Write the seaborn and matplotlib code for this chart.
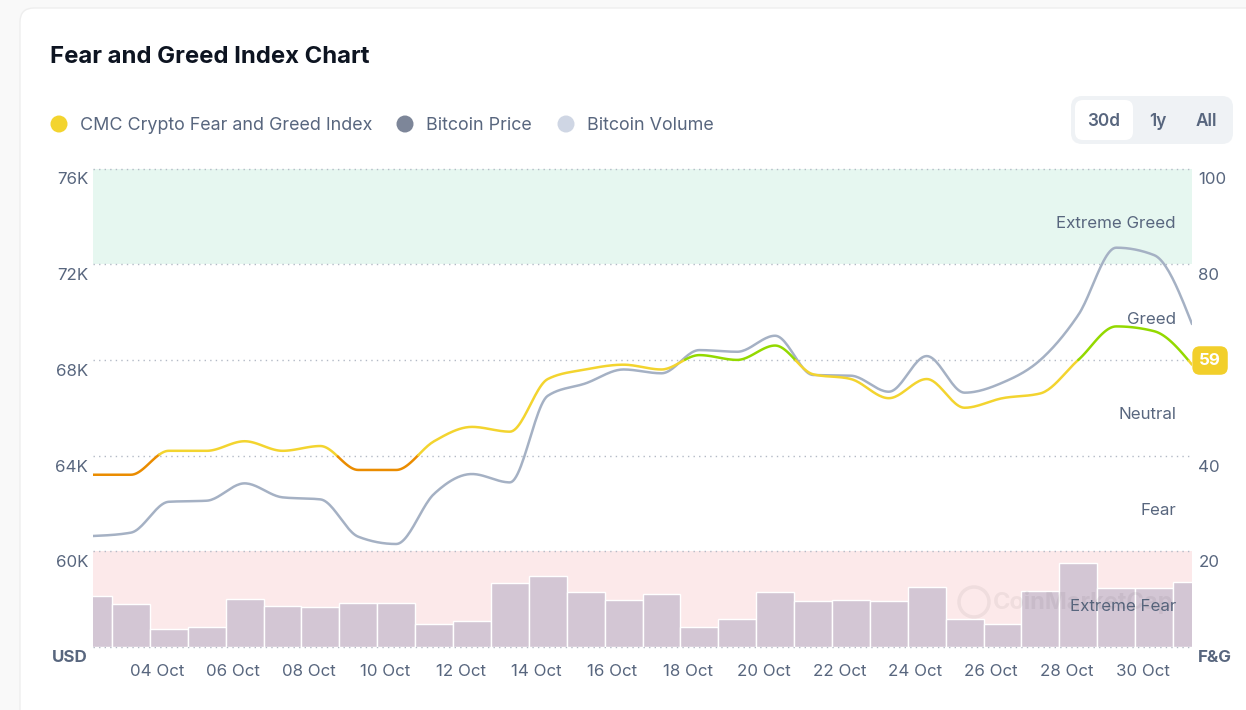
import numpy as np
import pandas as pd
import matplotlib
matplotlib.use("Agg")
import matplotlib.pyplot as plt
import seaborn as sns
from matplotlib.patches import FancyBboxPatch, Circle
from matplotlib.transforms import Affine2D, ScaledTranslation, blended_transform_factory

# ---------------- data ----------------
days = list(range(2, 32))  # 02 Oct .. 31 Oct
fear_greed = [36, 36, 41, 41, 43, 41, 42, 37, 37, 43, 46, 45, 56, 58, 59,
              58, 61, 60, 63, 57, 56, 52, 56, 50, 52, 53, 60, 67, 66, 59]
btc_price = [60640, 60780, 62070, 62115, 62840, 62255, 62170, 60610, 60305, 62400,
             63230, 62880, 66500, 67020, 67600, 67440, 68410, 68340, 69010, 67370,
             67340, 66670, 68160, 66630, 67050, 68000, 69880, 72690, 72380, 69500]
btc_volume_b = [28.2, 23.5, 10.1, 11.0, 26.6, 22.6, 21.8, 24.4, 24.4, 12.7,
                14.3, 35.0, 39.1, 30.1, 25.9, 29.2, 11.0, 15.2, 30.1, 25.1,
                25.9, 25.1, 33.2, 15.2, 12.7, 30.6, 46.4, 32.3, 32.3, 35.8]
tick_days = list(range(4, 31, 2))
tick_labels = [f"{d:02d} Oct" for d in tick_days]
usd_ticks = [60000, 64000, 68000, 72000, 76000]
usd_labels = ["60K", "64K", "68K", "72K", "76K"]
fg_ticks = [20, 40, 80, 100]
zone_names = ["Extreme Fear", "Fear", "Neutral", "Greed", "Extreme Greed"]
zone_edges = [0, 20, 40, 60, 80, 100]
zone_colors = ["#ea3943", "#ea8c00", "#f3d42f", "#93d900", "#16c784"]
legend_names = ["CMC Crypto Fear and Greed Index", "Bitcoin Price", "Bitcoin Volume"]
legend_colors = ["#f3d42f", "#7d8699", "#cfd6e4"]

# ---------------- helpers ----------------
def monotone_curve(x, y, n=24):
    """d3 curveMonotoneX style rendering of a series."""
    x = np.asarray(x, float)
    y = np.asarray(y, float)
    h = np.diff(x)
    s = np.diff(y) / h
    m = np.zeros_like(y)
    for i in range(1, len(y) - 1):
        s0, s1, h0, h1 = s[i - 1], s[i], h[i - 1], h[i]
        p = (s0 * h1 + s1 * h0) / (h0 + h1)
        m[i] = (np.sign(s0) + np.sign(s1)) * min(abs(s0), abs(s1), 0.5 * abs(p))
    m[0] = (3 * s[0] - m[1]) / 2
    m[-1] = (3 * s[-1] - m[-2]) / 2
    xs, ys = [], []
    for i in range(len(y) - 1):
        t = np.linspace(0, 1, n, endpoint=(i == len(y) - 2))
        h00 = 2 * t**3 - 3 * t**2 + 1
        h10 = t**3 - 2 * t**2 + t
        h01 = -2 * t**3 + 3 * t**2
        h11 = t**3 - t**2
        xs.append(x[i] + t * h[i])
        ys.append(h00 * y[i] + h10 * h[i] * m[i] + h01 * y[i + 1] + h11 * h[i] * m[i + 1])
    return np.concatenate(xs), np.concatenate(ys)

# ---------------- figure ----------------
sns.set_theme(style="white")
plt.rcParams["font.family"] = ["Inter", "DejaVu Sans"]
TXT = "#58667e"
FS = 12.2
W, H = 1246, 710
fig = plt.figure(figsize=(W / 100, H / 100), dpi=100, facecolor="#f9f9f9")
pxT = Affine2D().scale(1 / W, -1 / H).translate(0, 1) + fig.transFigure

card = FancyBboxPatch((20, 8), 1400, 900, boxstyle="round,pad=0,rounding_size=14",
                      transform=pxT, fc="white", ec="#eeeeee", lw=1, zorder=-10)
fig.patches.append(card)

# title
fig.text(50, 57, "Fear and Greed Index Chart", transform=pxT, fontsize=17.2,
         weight="bold", color="#0d1421", va="center", ha="left")

# legend
leg_x = [59, 405, 566]
for x0, name, col in zip(leg_x, legend_names, legend_colors):
    fig.patches.append(Circle((x0, 124), 8.5, transform=pxT, fc=col, ec="none"))
    fig.text(x0 + 21, 126, name, transform=pxT, fontsize=12.9, color=TXT,
             va="center", ha="left")

# range toggle
fig.patches.append(FancyBboxPatch((1071, 96), 162, 48, boxstyle="round,pad=0,rounding_size=11",
                                  transform=pxT, fc="#eff2f5", ec="none"))
fig.patches.append(FancyBboxPatch((1075, 100), 58, 40, boxstyle="round,pad=0,rounding_size=8",
                                  transform=pxT, fc="white", ec="none"))
for x0, lab in zip([1104, 1158, 1206], ["30d", "1y", "All"]):
    fig.text(x0, 121, lab, transform=pxT, fontsize=12.4, weight=600, color=TXT,
             ha="center", va="center")

# axes
L, R, T, B = 93, 1192, 168.5, 647
ax_bg = fig.add_axes([L / W, 1 - B / H, (R - L) / W, (B - T) / H])
ax_bg.set_facecolor("none")
ax_vol = ax_bg.twinx()
ax_price = ax_bg.twinx()
ax_fg = ax_bg.twinx()

idx = np.arange(len(days))

# zone bands + dotted grid
ax_bg.set_ylim(0, 100)
ax_bg.axhspan(80, 100, color="#e6f7f0", lw=0, zorder=0)
ax_bg.axhspan(0, 20, color="#fce9ea", lw=0, zorder=0)
for v in zone_edges:
    ax_bg.axhline(v, color="#b3bac6", lw=1.0, ls=(0, (1, 3)), zorder=1, clip_on=False)

# volume bars
df_vol = pd.DataFrame({"x": idx, "vol": btc_volume_b})
sns.barplot(data=df_vol, x="x", y="vol", native_scale=True, width=1.0,
            color="#d3c6d4", saturation=1, edgecolor="white", linewidth=1,
            errorbar=None, ax=ax_vol)
ax_vol.set_ylim(0, 263.45)
ax_vol.set_yticks([])
ax_vol.set_ylabel("")

# bitcoin price line
px_, py_ = monotone_curve(idx, btc_price)
sns.lineplot(x=px_, y=py_, ax=ax_price, color="#a5b1c4", lw=1.8,
             estimator=None, sort=False, legend=False)
ax_price.set_ylim(56000, 76000)

# fear & greed line, coloured by zone
fx_, fy_ = monotone_curve(idx, fear_greed)
zone_of = np.clip(np.searchsorted(zone_edges, fy_, side="right") - 1, 0, 4)
start = 0
for k in range(1, len(fx_) + 1):
    if k == len(fx_) or zone_of[k] != zone_of[start]:
        end = min(k + 1, len(fx_))
        sns.lineplot(x=fx_[start:end], y=fy_[start:end], ax=ax_fg,
                     color=zone_colors[zone_of[start]], lw=1.8,
                     estimator=None, sort=False, legend=False)
        start = k
ax_fg.set_ylim(0, 100)
ax_fg.set_yticks([])
ax_fg.set_ylabel("")

# zone labels
trans_fg = blended_transform_factory(ax_fg.transAxes, ax_fg.transData)
down7 = ScaledTranslation(0, -0.07, fig.dpi_scale_trans)
for name, lo, hi in zip(zone_names, zone_edges[:-1], zone_edges[1:]):
    ax_fg.text((1176 - L) / (R - L), (lo + hi) / 2, name, transform=trans_fg + down7,
               ha="right", va="center", fontsize=FS, color=TXT, zorder=6)

# current value badge
ax_fg.annotate(f"{fear_greed[-1]}", xy=(1, fear_greed[-1]), xycoords=trans_fg,
               xytext=(13, 3), textcoords="offset points", ha="center", va="center",
               fontsize=12.2, weight="bold", color="white", annotation_clip=False,
               bbox=dict(boxstyle="round,pad=0.4,rounding_size=0.45", fc="#f2cf2b", ec="none"),
               zorder=10)

# watermark (faint, sits behind the "Extreme Fear" label as in the original)
fig.patches.append(Circle((974, 602), 15, transform=pxT, fc="none", ec="black",
                          lw=2.5, alpha=0.05))
fig.text(1083, 603, "CoinMarketCap", transform=pxT, fontsize=17, weight="bold",
         color="black", alpha=0.05, ha="center", va="center")

# ticks
ax_bg.yaxis.tick_right()
ax_bg.set_yticks(fg_ticks)
ax_bg.set_yticklabels([str(t) for t in fg_ticks])
ax_bg.tick_params(axis="y", length=0, pad=4.5, labelsize=FS, labelcolor=TXT)
ax_price.yaxis.tick_left()
ax_price.set_yticks(usd_ticks)
ax_price.set_yticklabels(usd_labels)
ax_price.set_ylabel("")
ax_price.tick_params(axis="y", length=0, pad=3.5, labelsize=FS, labelcolor=TXT)

ax_bg.set_xlim(0, len(days) - 1)
ax_bg.set_xticks([d - days[0] - 0.3 for d in tick_days])
ax_bg.set_xticklabels(tick_labels)
ax_bg.tick_params(axis="x", length=0, pad=12, labelsize=FS, labelcolor=TXT)
ax_bg.set_xlabel("")

down10 = ScaledTranslation(0, -0.10, fig.dpi_scale_trans)
for lab in ax_bg.get_yticklabels() + ax_price.get_yticklabels():
    lab.set_transform(lab.get_transform() + down10)

for a in (ax_bg, ax_vol, ax_price, ax_fg):
    for sp in a.spines.values():
        sp.set_visible(False)
    a.grid(False)

fig.text(88, 657, "USD", transform=pxT, fontsize=FS, weight="bold", color=TXT,
         ha="right", va="center")
fig.text(1198, 657, "F&G", transform=pxT, fontsize=FS, weight="bold", color=TXT,
         ha="left", va="center")

fig.savefig("out.png", dpi=100, facecolor=fig.get_facecolor())
